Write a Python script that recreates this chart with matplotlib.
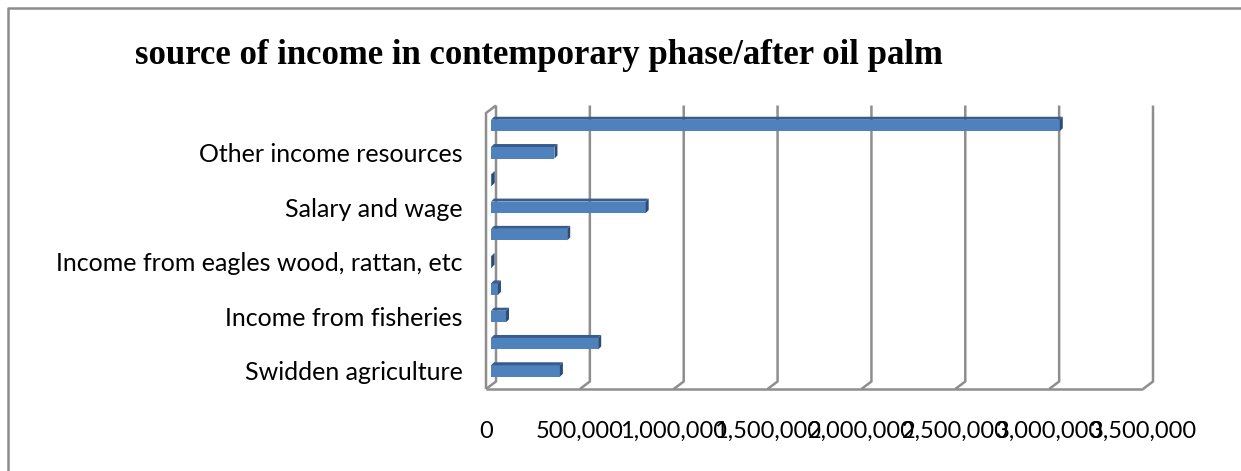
import matplotlib
matplotlib.use("Agg")
import matplotlib.pyplot as plt
from matplotlib.lines import Line2D
from matplotlib.patches import Polygon

# bottom -> top, as Excel draws them; only every other category label was shown
labels = ["Swidden agriculture", "", "Income from fisheries", "",
          "Income from eagles wood, rattan, etc", "", "Salary and wage", "",
          "Other income resources", ""]
values = [367000, 571000, 80000, 37000, 3000, 406000, 824000, 4000, 338000, 3030000]
xticks = [0, 500000, 1000000, 1500000, 2000000, 2500000, 3000000, 3500000]
title = "source of income in contemporary phase/after oil palm"

W, H = 1241, 471
FRONT = "#4F81BD"
TOP = "#375D8F"
SIDE = "#2B4B78"
GRID = "#8E8E8E"

fig = plt.figure(figsize=(W / 100, H / 100), dpi=100)
ax = fig.add_axes([486 / W, 1 - 389 / H, 657 / W, 276 / H])
xmax = 3500000
ylo, yhi = -0.66, 9.458
ax.set_xlim(0, xmax)
ax.set_ylim(ylo, yhi)
for s in ax.spines.values():
    s.set_visible(False)

px = xmax / 657.0        # data units per pixel, x
py = 1 / 27.28           # category units per pixel, y
dX, dY = 10 * px, 7.5 * py   # 3d depth offset

# floor front edge, left wall, gridlines on back wall
kw = dict(color=GRID, lw=1.8, clip_on=False, solid_capstyle="butt", zorder=1)
ax.plot([0, xmax], [ylo, ylo], **kw)
ax.plot([0, 0, dX], [ylo, yhi, yhi + dY], **kw)
for t in xticks:
    ax.plot([t, t + dX, t + dX], [ylo, ylo + dY, yhi + dY], **kw)

# bars: front face + top face + side face
bh = 11.5 * py
x0 = 5 * px
ex, ey = 3 * px, 3 * py
for i, v in enumerate(values):
    yb, yt = i - bh / 2, i + bh / 2
    x1 = x0 + v
    ax.barh(i, v, left=x0, height=bh, color=FRONT, edgecolor="none", zorder=3)
    ax.add_patch(Polygon([(x0, yt), (x1, yt), (x1 + ex, yt + ey), (x0 + ex, yt + ey)],
                         closed=True, fc=TOP, ec="none", zorder=3, clip_on=False))
    ax.add_patch(Polygon([(x1, yb), (x1 + ex, yb + ey), (x1 + ex, yt + ey), (x1, yt)],
                         closed=True, fc=SIDE, ec="none", zorder=3, clip_on=False))

fam = ["Lato", "DejaVu Sans"]
ax.set_xticks(xticks)
ax.set_xticklabels([f"{t:,}" for t in xticks], family=fam, size=17)
ax.set_yticks(range(len(values)))
ax.set_yticklabels(labels, family=fam, size=18)
ax.tick_params(axis="x", length=0, pad=23, colors="black")
ax.tick_params(axis="y", length=0, pad=17, colors="black")

fig.text(135 / W, 1 - 56 / H, title, family=["Liberation Serif", "DejaVu Serif"],
         weight="bold", size=25, va="center", ha="left")

# chart area border (runs off the right and bottom of the crop)
fig.add_artist(Line2D([8 / W, 8 / W, 1], [0, 1 - 8 / H, 1 - 8 / H],
                      color="#8C8C8C", lw=1.8, transform=fig.transFigure))

fig.savefig("out.png", dpi=100)
